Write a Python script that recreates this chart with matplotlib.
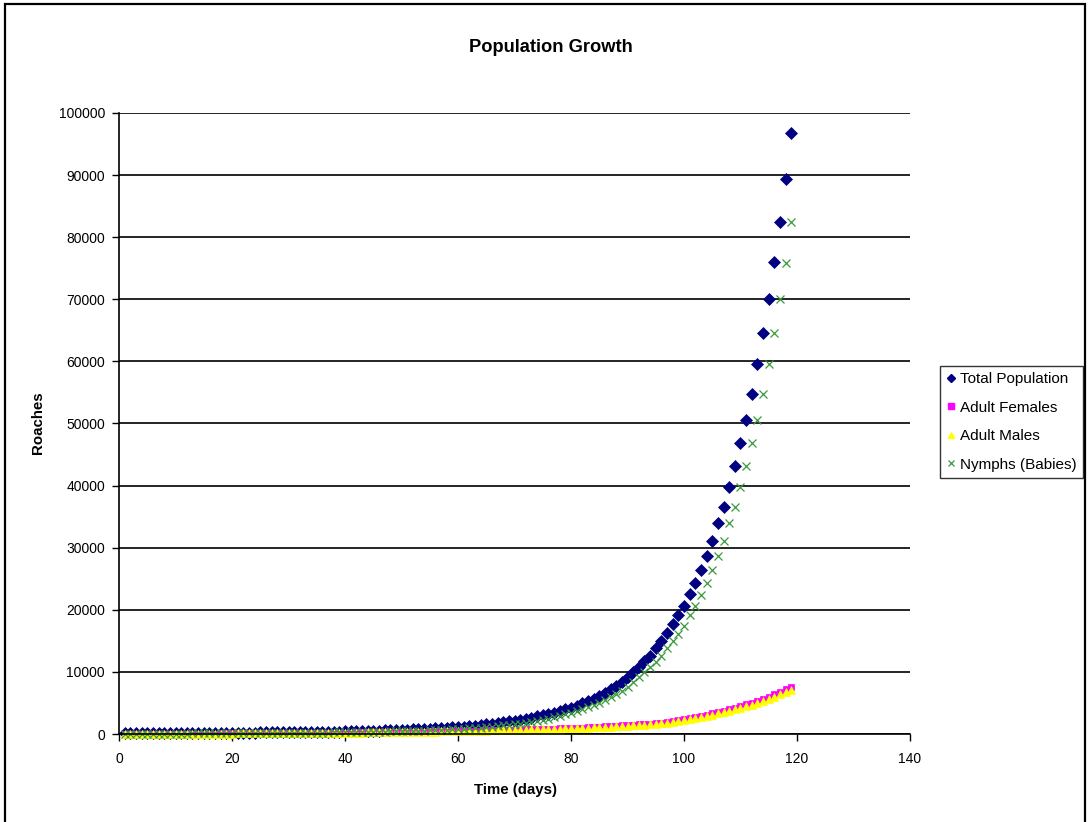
import matplotlib
matplotlib.use("Agg")
import matplotlib.pyplot as plt
from matplotlib.patches import Rectangle
from matplotlib.lines import Line2D

# Simulated roach counts, one value per day
days = list(range(1, 120))

total_population = [
    100, 104, 108, 112, 117, 121, 126, 131, 136, 141,
    146, 152, 158, 164, 170, 176, 183, 190, 197, 204,
    212, 220, 228, 236, 245, 254, 263, 273, 283, 293,
    304, 315, 326, 338, 350, 362, 375, 388, 402, 416,
    440, 460, 482, 505, 530, 556, 583, 612, 642, 674,
    708, 744, 782, 822, 864, 908, 955, 1004, 1056, 1110,
    1187, 1269, 1356, 1450, 1550, 1657, 1771, 1893, 2024, 2164,
    2313, 2473, 2644, 2826, 3021, 3229, 3452, 3700, 3980, 4190,
    4560, 4940, 5310, 5690, 6120, 6600, 7200, 7780, 8370, 9230,
    9940, 10740, 11760, 12610, 13900, 14980, 16210, 17710, 19160, 20660,
    22540, 24260, 26410, 28710, 31080, 33930, 36600, 39820, 43160, 46860,
    50620, 54800, 59530, 64620, 70100, 76010, 82400, 89370, 96830,
]

adult_females = [
    40, 40, 40, 45, 45, 50, 50, 55, 55, 60,
    60, 65, 65, 70, 75, 75, 80, 85, 90, 95,
    100, 105, 110, 115, 120, 125, 130, 135, 140, 150,
    155, 160, 170, 175, 185, 190, 200, 210, 215, 225,
    235, 245, 255, 265, 275, 285, 300, 310, 320, 335,
    350, 360, 375, 390, 405, 420, 435, 450, 470, 485,
    505, 520, 540, 560, 580, 600, 620, 645, 665, 690,
    715, 740, 765, 790, 820, 850, 880, 910, 945, 980,
    1000, 1040, 1080, 1120, 1170, 1210, 1260, 1310, 1370, 1420,
    1480, 1540, 1610, 1680, 1750, 1820, 1930, 2090, 2200, 2360,
    2520, 2740, 2900, 3110, 3330, 3540, 3700, 3970, 4240, 4510,
    4780, 5040, 5370, 5640, 6010, 6390, 6820, 7190, 7620,
]

adult_males = [
    25, 25, 25, 30, 30, 35, 35, 40, 40, 45,
    45, 50, 50, 55, 60, 60, 65, 70, 75, 80,
    85, 90, 95, 100, 105, 110, 115, 120, 125, 130,
    135, 140, 150, 155, 165, 170, 180, 190, 195, 205,
    215, 225, 235, 245, 255, 265, 275, 285, 295, 310,
    325, 335, 350, 365, 380, 395, 410, 425, 440, 455,
    475, 490, 510, 530, 550, 565, 585, 610, 630, 650,
    675, 700, 725, 750, 775, 805, 835, 865, 895, 930,
    950, 985, 1020, 1060, 1100, 1140, 1190, 1240, 1290, 1340,
    1400, 1450, 1520, 1580, 1650, 1720, 1820, 1960, 2070, 2220,
    2370, 2580, 2730, 2920, 3130, 3330, 3480, 3730, 3990, 4240,
    4500, 4740, 5050, 5300, 5650, 6010, 6410, 6760, 7160,
]

nymphs = [
    50, 52, 55, 57, 60, 62, 65, 68, 71, 74,
    77, 80, 84, 88, 92, 96, 100, 104, 109, 114,
    119, 124, 129, 135, 141, 147, 153, 160, 167, 174,
    182, 190, 198, 206, 215, 224, 233, 243, 253, 264,
    285, 300, 316, 333, 351, 369, 389, 409, 431, 454,
    478, 504, 531, 559, 589, 620, 653, 688, 725, 764,
    830, 895, 965, 1040, 1120, 1205, 1295, 1390, 1490, 1580,
    1680, 1820, 1970, 2130, 2300, 2480, 2680, 2900, 3170, 3380,
    3660, 3980, 4300, 4620, 5040, 5480, 5910, 6440, 6970, 7620,
    8330, 9130, 9940, 10740, 11640, 12610, 13800, 14930, 16050, 17440,
    19160, 20660, 22380, 24260, 26410, 28710, 31080, 33930, 36600, 39820,
    43160, 46860, 50620, 54800, 59530, 64620, 70100, 75850, 82400,
]

x_ticks = [0, 20, 40, 60, 80, 100, 120, 140]
y_ticks = [0, 10000, 20000, 30000, 40000, 50000, 60000, 70000, 80000, 90000, 100000]

plt.rcParams["font.family"] = ["Liberation Sans", "DejaVu Sans"]

W, H = 1088, 822
fig = plt.figure(figsize=(W / 100, H / 100), dpi=100)
fig.patch.set_facecolor("white")

# Outer chart border
fig.add_artist(Rectangle((5 / W, -0.01), 1080 / W, 1 - 4 / H + 0.01,
                         transform=fig.transFigure, fill=False,
                         edgecolor="black", linewidth=1.6))

ax = fig.add_axes([119 / W, 1 - 734 / H, 791 / W, 621 / H])

series = [
    (total_population, "Total Population", "D", "#000080", 6.0),
    (adult_females, "Adult Females", "s", "#ff00ff", 5.0),
    (adult_males, "Adult Males", "^", "#ffff00", 6.0),
    (nymphs, "Nymphs (Babies)", "x", "#3a9a3a", 5.2),
]
for values, label, marker, color, size in series:
    ax.plot(days, values, linestyle="none", marker=marker,
            markerfacecolor=color, markeredgecolor=color,
            markersize=size, markeredgewidth=0.9 if marker == "x" else 0.5,
            label=label, clip_on=False)

ax.set_xlim(0, 140)
ax.set_ylim(0, 100000)
ax.set_xticks(x_ticks)
ax.set_yticks(y_ticks)
ax.set_xticklabels([str(v) for v in x_ticks])
ax.set_yticklabels([str(v) for v in y_ticks])
ax.tick_params(axis="both", direction="out", length=5, width=1, colors="black",
               labelsize=10)
ax.tick_params(axis="x", pad=8)
ax.tick_params(axis="y", pad=5)
ax.yaxis.grid(True, color="black", linewidth=1.2)
ax.set_axisbelow(True)
for side in ("top", "right"):
    ax.spines[side].set_visible(False)
for side in ("left", "bottom"):
    ax.spines[side].set_linewidth(1.2)
    ax.spines[side].set_color("black")

fig.text(551 / W, 1 - 47 / H, "Population Growth", ha="center", va="center",
         fontsize=13.2, fontweight="bold")
fig.text(515 / W, 1 - 790 / H, "Time (days)", ha="center", va="center",
         fontsize=10.8, fontweight="bold")
fig.text(38 / W, 1 - 423 / H, "Roaches", ha="center", va="center",
         fontsize=10.8, fontweight="bold", rotation=90)

legend_handles = [
    Line2D([], [], linestyle="none", marker="D", color="#000080", markersize=4),
    Line2D([], [], linestyle="none", marker="s", color="#ff00ff", markersize=4.5),
    Line2D([], [], linestyle="none", marker="^", color="#ffff00", markersize=5),
    Line2D([], [], linestyle="none", marker="x", color="#3a9a3a", markersize=4,
           markeredgewidth=0.9),
]
leg = fig.legend(legend_handles, [s[1] for s in series],
                 loc="upper left", bbox_to_anchor=(940 / W, 1 - 366 / H),
                 frameon=True, fancybox=False, edgecolor="black",
                 fontsize=11, handlelength=0.6, handletextpad=0.3,
                 borderpad=0.4, labelspacing=0.95, borderaxespad=0)
leg.get_frame().set_linewidth(1.0)

fig.savefig("out.png", dpi=100)
